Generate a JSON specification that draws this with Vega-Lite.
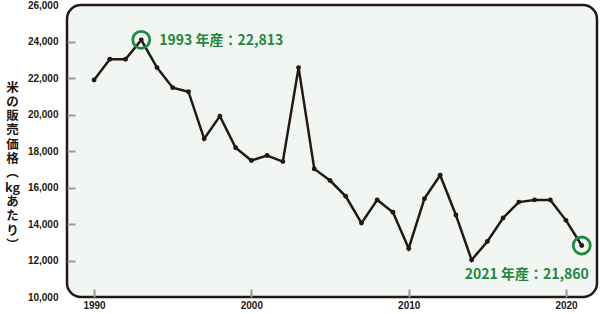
{
  "$schema": "https://vega.github.io/schema/vega-lite/v6.json",
  "width": 530,
  "height": 292,
  "autosize": {"type": "none"},
  "padding": {"left": 67, "top": 5, "right": 3, "bottom": 17},
  "background": "white",
  "config": {
    "view": {"fill": "#f2f6f3", "stroke": "#231815", "strokeWidth": 2.5, "cornerRadius": 14},
    "axis": {
      "grid": false,
      "domain": false,
      "labelFont": "Liberation Sans",
      "labelFontWeight": "bold",
      "labelFontSize": 10,
      "labelColor": "#231815",
      "labelOverlap": false,
      "tickColor": "#9a9a9a",
      "tickWidth": 2
    }
  },
  "datasets": {
    "main": [
      {"year": 1990, "value": 21890},
      {"year": 1991, "value": 23030},
      {"year": 1992, "value": 23030},
      {"year": 1993, "value": 24090},
      {"year": 1994, "value": 22570},
      {"year": 1995, "value": 21470},
      {"year": 1996, "value": 21250},
      {"year": 1997, "value": 18670},
      {"year": 1998, "value": 19910},
      {"year": 1999, "value": 18180},
      {"year": 2000, "value": 17480},
      {"year": 2001, "value": 17750},
      {"year": 2002, "value": 17420},
      {"year": 2003, "value": 22570},
      {"year": 2004, "value": 17020},
      {"year": 2005, "value": 16380},
      {"year": 2006, "value": 15520},
      {"year": 2007, "value": 14050},
      {"year": 2008, "value": 15320},
      {"year": 2009, "value": 14640},
      {"year": 2010, "value": 12660},
      {"year": 2011, "value": 15390},
      {"year": 2012, "value": 16670},
      {"year": 2013, "value": 14490},
      {"year": 2014, "value": 12030},
      {"year": 2015, "value": 13040},
      {"year": 2016, "value": 14330},
      {"year": 2017, "value": 15200},
      {"year": 2018, "value": 15320},
      {"year": 2019, "value": 15320},
      {"year": 2020, "value": 14200},
      {"year": 2021, "value": 12820}
    ],
    "notes": [
      {"year": 1993, "value": 24090, "label": "1993 年産：22,813", "side": "left"},
      {"year": 2021, "value": 12820, "label": "2021 年産：21,860", "side": "right"}
    ]
  },
  "encoding": {
    "x": {
      "field": "year", "type": "quantitative",
      "scale": {"domain": [1988.28, 2021.97], "nice": false, "zero": false},
      "axis": {
        "title": null, "values": [1990, 2000, 2010, 2020], "format": "d",
        "tickSize": -8, "labelPadding": 11, "labelOverlap": false
      }
    },
    "y": {
      "field": "value", "type": "quantitative",
      "scale": {"domain": [10000, 26000], "nice": false, "zero": false},
      "axis": {
        "title": ["米", "の", "販", "売", "価", "格", "︵", "kg", "あ", "た", "り", "︶"],
        "titleFont": "Noto Sans CJK JP",
        "titleFontWeight": "bold",
        "titleFontSize": 12.5,
        "titleLineHeight": 14.3,
        "titleColor": "#231815",
        "titleAngle": 0,
        "titleAlign": "center",
        "titleBaseline": "middle",
        "titleX": -55,
        "titleY": 82,
        "values": [10000, 12000, 14000, 16000, 18000, 20000, 22000, 24000, 26000],
        "format": ",d",
        "tickSize": -8,
        "labelPadding": 17,
        "labelOverlap": false,
        "tickColor": {"condition": {"test": "datum.value == 10000 || datum.value == 26000", "value": "transparent"}, "value": "#9a9a9a"}
      }
    }
  },
  "layer": [
    {
      "data": {"name": "main"},
      "mark": {"type": "line", "color": "#231815", "strokeWidth": 2.5}
    },
    {
      "data": {"name": "main"},
      "mark": {"type": "point", "filled": true, "color": "#231815", "size": 24, "opacity": 1}
    },
    {
      "data": {"name": "notes"},
      "mark": {"type": "point", "filled": false, "color": "#23883f", "strokeWidth": 2.8, "size": 290, "opacity": 1}
    },
    {
      "data": {"name": "notes"},
      "transform": [{"filter": "datum.side == 'left'"}],
      "mark": {"type": "text", "align": "left", "baseline": "middle", "dx": 18, "dy": 1, "font": "Noto Sans CJK JP", "fontWeight": "bold", "fontSize": 14, "color": "#23883f"},
      "encoding": {"text": {"field": "label"}}
    },
    {
      "data": {"name": "notes"},
      "transform": [{"filter": "datum.side == 'right'"}],
      "mark": {"type": "text", "align": "right", "baseline": "middle", "dx": 7, "dy": 29, "font": "Noto Sans CJK JP", "fontWeight": "bold", "fontSize": 14, "color": "#23883f"},
      "encoding": {"text": {"field": "label"}}
    }
  ]
}
